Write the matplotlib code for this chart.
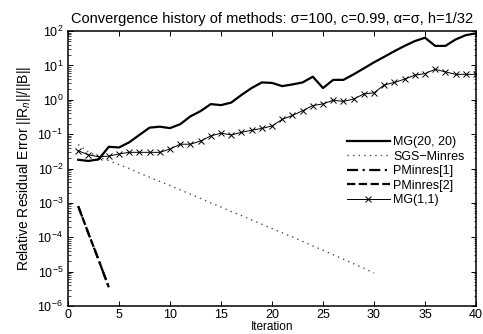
import numpy as np
import matplotlib
matplotlib.use("Agg")
import matplotlib.pyplot as plt
from matplotlib.ticker import LogLocator, NullFormatter

plt.rcParams['font.family'] = ['Liberation Sans', 'DejaVu Sans']
plt.rcParams['mathtext.fontset'] = 'custom'
plt.rcParams['mathtext.rm'] = 'Liberation Sans'
plt.rcParams['mathtext.it'] = 'Liberation Sans:italic'

# residual histories, one value per iteration
it_mg20 = np.arange(1, 41)
res_mg20 = [0.018, 0.0166, 0.0185, 0.043, 0.041, 0.058, 0.095, 0.155, 0.165, 0.15,
            0.195, 0.33, 0.47, 0.75, 0.70, 0.83, 1.38, 2.2, 3.2, 3.1,
            2.5, 2.8, 3.2, 4.7, 2.2, 3.8, 3.8, 5.5, 8.2, 12.3,
            17.8, 26.0, 37.0, 51.0, 64.0, 37.0, 37.0, 57.0, 76.0, 86.0]

it_sgs = np.arange(1, 31)
res_sgs = [0.05, 0.03, 0.022, 0.017, 0.013, 0.0100, 0.0074, 0.0056, 0.0042, 0.0032,
           0.0024, 0.0018, 0.00135, 0.0010, 7.6e-4, 5.6e-4, 4.3e-4, 3.2e-4, 2.4e-4, 1.8e-4,
           1.35e-4, 1.02e-4, 7.6e-5, 5.6e-5, 4.2e-5, 3.1e-5, 2.3e-5, 1.7e-5, 1.26e-5, 9.1e-6]

it_pm1 = np.arange(1, 5)
res_pm1 = [8.0e-4, 1.3e-4, 2.2e-5, 3.5e-6]

it_pm2 = np.arange(1, 5)
res_pm2 = [8.0e-4, 1.3e-4, 2.2e-5, 3.5e-6]

it_mg1 = np.arange(1, 41)
res_mg1 = [0.033, 0.025, 0.022, 0.023, 0.0266, 0.0296, 0.0296, 0.0296, 0.0296, 0.037,
           0.051, 0.051, 0.063, 0.089, 0.107, 0.095, 0.113, 0.13, 0.147, 0.173,
           0.27, 0.35, 0.48, 0.68, 0.76, 0.97, 0.90, 1.05, 1.48, 1.6,
           2.7, 3.2, 4.0, 5.2, 5.8, 7.7, 6.5, 5.5, 5.5, 5.5]

fig = plt.figure(figsize=(4.83, 3.34), dpi=100)
ax = fig.add_axes([0.1408, 0.0838, 0.8447, 0.8232])

ax.semilogy(it_mg20, res_mg20, '-', color='k', lw=1.6, label='MG(20, 20)')
ax.semilogy(it_sgs, res_sgs, linestyle=(0, (1.0, 3.0)), color='0.3', lw=1.0,
            label='SGS\u2212Minres')
ax.semilogy(it_pm1, res_pm1, linestyle=(0, (5, 2, 1, 2)), color='k', lw=1.6,
            label='PMinres[1]')
ax.semilogy(it_pm2, res_pm2, '--', color='k', lw=1.6, label='PMinres[2]')
ax.semilogy(it_mg1, res_mg1, '-x', color='k', lw=0.7, ms=4, mew=0.7, label='MG(1,1)')

ax.set_xlim(0, 40)
ax.set_ylim(1e-6, 1e2)
ax.set_xticks(np.arange(0, 41, 5))
ax.yaxis.set_major_locator(LogLocator(base=10, numticks=10))
ax.yaxis.set_minor_locator(LogLocator(base=10, subs=np.arange(2, 10), numticks=10))
ax.yaxis.set_minor_formatter(NullFormatter())
ax.tick_params(which='both', direction='in', top=True, right=True, labelsize=9)
ax.tick_params(axis='x', pad=2)
ax.tick_params(which='major', length=3.5, width=0.7)
ax.tick_params(which='minor', length=1.8, width=0.5)
for s in ax.spines.values():
    s.set_linewidth(1.1)

ax.set_title('Convergence history of methods: \u03c3=100, c=0.99, \u03b1=\u03c3, h=1/32',
             fontsize=10.5, pad=6)
ax.set_xlabel('Iteration', fontsize=8.5, labelpad=0.5)
ax.set_ylabel('Relative Residual Error ||R$_n$||/||B||', fontsize=10, labelpad=3)

ax.legend(loc='center right', bbox_to_anchor=(1.0, 0.49), frameon=False, fontsize=9,
          handlelength=3.4, handletextpad=0.3, labelspacing=0.2)

fig.savefig('out.png', dpi=100)
